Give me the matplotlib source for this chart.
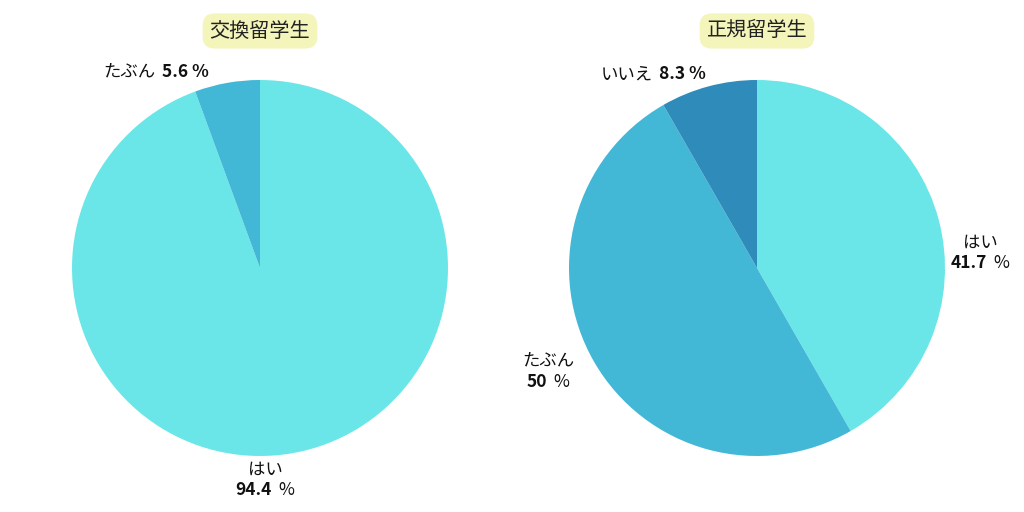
import matplotlib
matplotlib.use('Agg')
import matplotlib.pyplot as plt
from matplotlib.offsetbox import TextArea, HPacker, VPacker, AnnotationBbox
import numpy as np

plt.rcParams['font.family'] = ['Noto Sans CJK JP', 'DejaVu Sans']

# ---- data ----
titles = ['交換留学生', '正規留学生']
categories = ['はい', 'たぶん', 'いいえ']
exchange_values = [94.4, 5.6, 0.0]
regular_values = [41.7, 50.0, 8.3]
value_labels_exchange = ['94.4', '5.6', '']
value_labels_regular = ['41.7', '50', '8.3']
colors = ['#6be6e8', '#42b8d6', '#2e8bba']

# ---- layout (label styles / positions in pie-radius units) ----
label_layout = [
    {   # exchange
        'はい': ('stack', 0.027, -1.128, (0.5, 0.5)),
        'たぶん': ('inline', -0.27, 1.043, (1.0, 0.5)),
    },
    {   # regular
        'はい': ('stack', 1.186, 0.08, (0.5, 0.5)),
        'たぶん': ('stack', -1.112, -0.55, (0.5, 0.5)),
        'いいえ': ('inline', -0.27, 1.03, (1.0, 0.5)),
    },
]

W, H = 1024, 512
fig = plt.figure(figsize=(W / 100, H / 100), dpi=100)
centers = [(260, 268), (757, 268)]
R = 188
LFS = 12.5

for idx, (vals, vlabels) in enumerate([(exchange_values, value_labels_exchange),
                                       (regular_values, value_labels_regular)]):
    cx, cy = centers[idx]
    ax = fig.add_axes([(cx - R) / W, (H - cy - R) / H, 2 * R / W, 2 * R / H])
    ax.pie(vals, colors=colors, startangle=90, counterclock=False, radius=1,
           wedgeprops=dict(linewidth=0))
    ax.set_xlim(-1, 1)
    ax.set_ylim(-1, 1)
    ax.set_aspect('equal')
    ax.axis('off')

    for cat, v, vl in zip(categories, vals, vlabels):
        if v <= 0 or cat not in label_layout[idx]:
            continue
        style, lx, ly, align = label_layout[idx][cat]
        if style == 'inline':
            box = HPacker(children=[
                TextArea(cat, textprops=dict(fontsize=LFS, color='#111111')),
                TextArea(vl + ' %', textprops=dict(fontsize=LFS, color='#111111', fontweight='bold')),
            ], align='baseline', pad=0, sep=5)
        else:
            line2 = HPacker(children=[
                TextArea(vl, textprops=dict(fontsize=LFS, color='#111111', fontweight='bold')),
                TextArea('%', textprops=dict(fontsize=LFS, color='#111111')),
            ], align='baseline', pad=0, sep=5)
            box = VPacker(children=[
                TextArea(cat, textprops=dict(fontsize=LFS, color='#111111')),
                line2,
            ], align='center', pad=0, sep=2)
        ab = AnnotationBbox(box, (lx, ly), xycoords='data', box_alignment=align,
                            frameon=False, pad=0, annotation_clip=False)
        ax.add_artist(ab)

    fig.text(cx / W, 1 - 31 / H, titles[idx], ha='center', va='center',
             fontsize=14.5, color='#222222',
             bbox=dict(boxstyle='round,pad=0.35,rounding_size=0.6',
                       facecolor='#f4f5ba', edgecolor='none'))

fig.savefig('out.png', dpi=100, facecolor='white')
